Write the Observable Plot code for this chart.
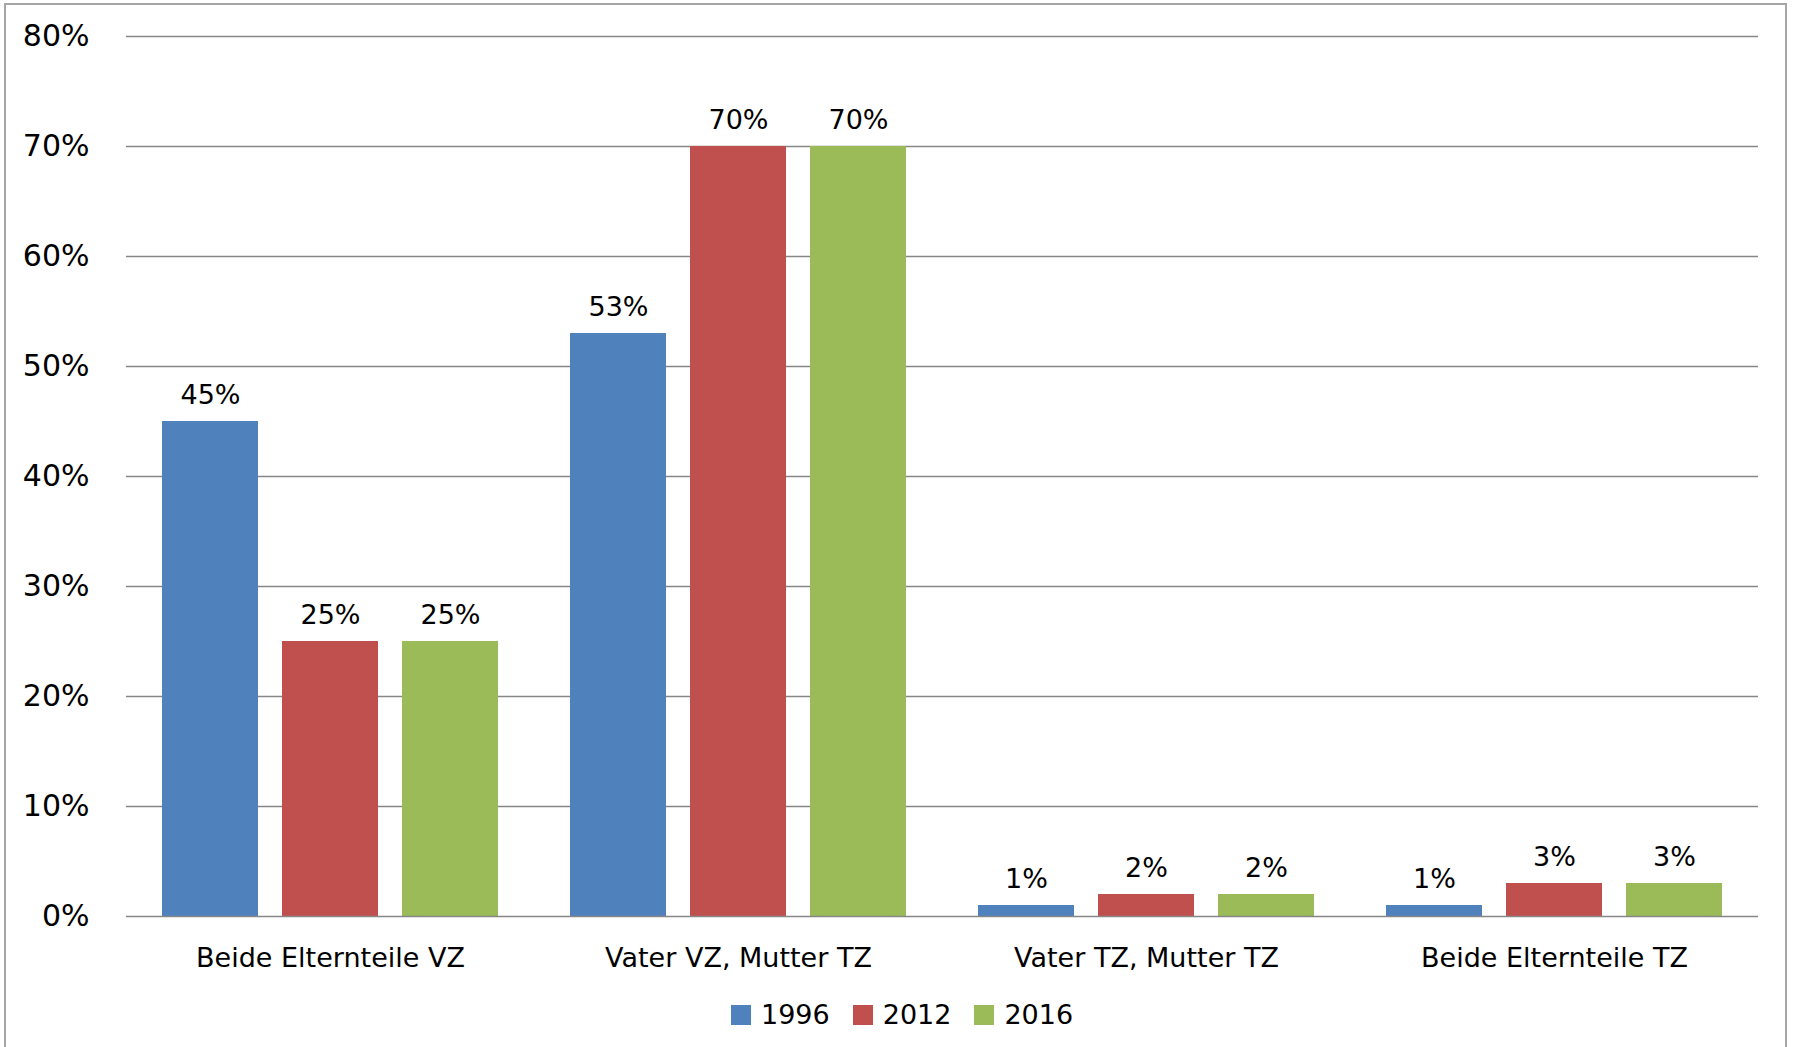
<!DOCTYPE html>
<html>
<head>
<meta charset="utf-8">
<script src="https://cdn.jsdelivr.net/npm/d3@7"></script>
<script src="https://cdn.jsdelivr.net/npm/@observablehq/plot@0.6"></script>
<style>
  html, body { margin: 0; padding: 0; background: #fff; }
  #wrap { position: relative; width: 1793px; height: 1047px; overflow: hidden; font-family: "DejaVu Sans", sans-serif; }
  #border { position: absolute; left: 4px; top: 3px; width: 1783px; height: 1100px; border: 2px solid #a6a6a6; box-sizing: border-box; }
  #chart { position: absolute; left: 0; top: 0; }
  #legend { position: absolute; left: 731px; top: 999px; display: flex; align-items: center; font-size: 27px; color: #000; }
  .item { display: flex; align-items: center; margin-right: 23px; }
  .sw { width: 20px; height: 20px; margin-right: 10px; }
</style>
</head>
<body>
<div id="wrap">
  <div id="border"></div>
  <div id="chart"></div>
  <div id="legend"></div>
</div>
<script>
const categories = ["Beide Elternteile VZ", "Vater VZ, Mutter TZ", "Vater TZ, Mutter TZ", "Beide Elternteile TZ"];
const years = ["1996", "2012", "2016"];
const values1996 = [0.45, 0.53, 0.01, 0.01];
const values2012 = [0.25, 0.70, 0.02, 0.03];
const values2016 = [0.25, 0.70, 0.02, 0.03];
const yTicks = [0, 0.1, 0.2, 0.3, 0.4, 0.5, 0.6, 0.7, 0.8];
const colors = ["#4F81BD", "#C0504D", "#9BBB59"];

const series = [values1996, values2012, values2016];
const data = [];
categories.forEach((c, i) => {
  years.forEach((y, j) => data.push({category: c, year: y, value: series[j][i]}));
});

const pct = d => Math.round(d * 100) + "%";

const chart = Plot.plot({
  width: 1793,
  height: 990,
  marginTop: 36,
  marginBottom: 74,
  marginLeft: 124,
  marginRight: 34,
  style: {fontFamily: "DejaVu Sans, sans-serif", color: "#000", background: "transparent"},
  fx: {domain: categories, padding: 0, label: null},
  x: {domain: years, paddingInner: 0.198, paddingOuter: 0.29, axis: null},
  y: {domain: [0, 0.8], axis: null},
  color: {domain: years, range: colors},
  marks: [
    Plot.ruleY(yTicks.filter(d => d > 0), {stroke: "#878787", strokeWidth: 1.5, strokeOpacity: 1}),
    Plot.barY(data, {fx: "category", x: "year", y: "value", fill: "year"}),
    Plot.ruleY([0], {stroke: "#878787", strokeWidth: 1.5, strokeOpacity: 1}),
    Plot.text(data, {fx: "category", x: "year", y: "value", text: d => pct(d.value), lineAnchor: "bottom", dy: -18, fontSize: 27, fill: "#000"}),
    Plot.axisY({ticks: yTicks, tickFormat: pct, tickSize: 0, tickPadding: 37, fontSize: 30, label: null}),
    Plot.axisFx({anchor: "bottom", tickSize: 0, tickPadding: 31, fontSize: 27, label: null})
  ]
});
document.getElementById("chart").appendChild(chart);

const legend = document.getElementById("legend");
years.forEach((y, i) => {
  const item = document.createElement("div");
  item.className = "item";
  const sw = document.createElement("div");
  sw.className = "sw";
  sw.style.background = colors[i];
  const t = document.createElement("span");
  t.textContent = y;
  item.appendChild(sw);
  item.appendChild(t);
  legend.appendChild(item);
});
</script>
</body>
</html>
